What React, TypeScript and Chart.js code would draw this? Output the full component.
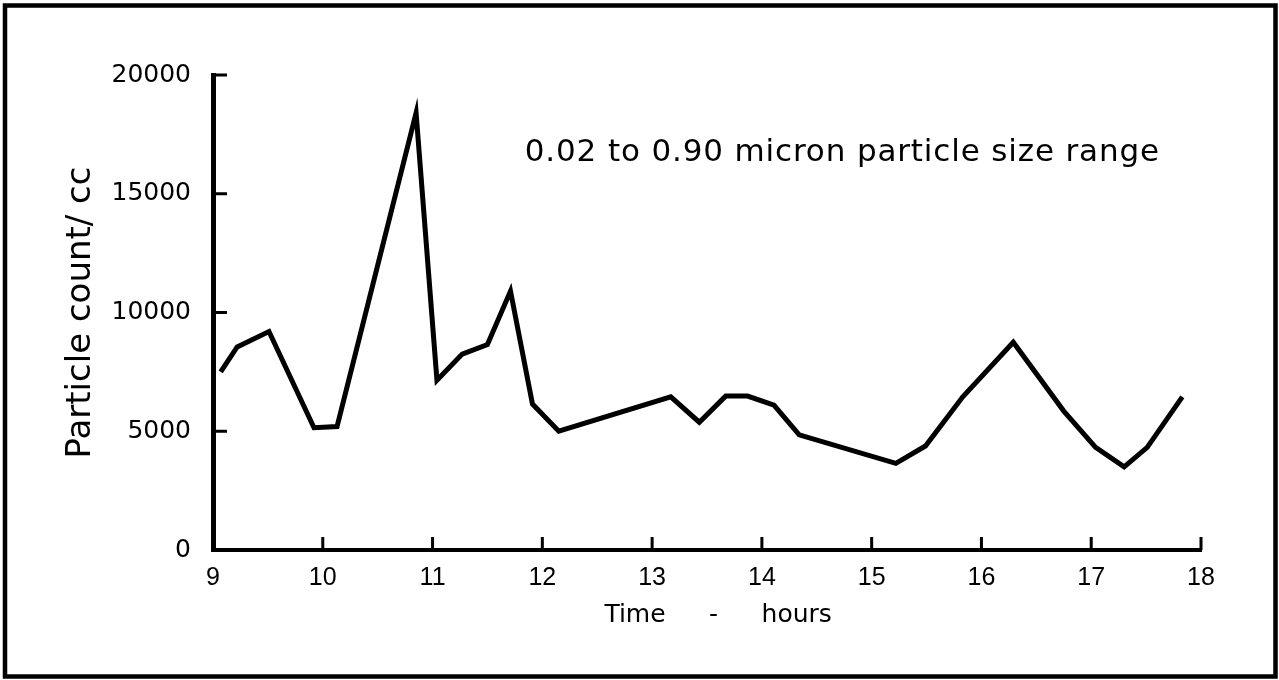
import React, { useEffect, useRef } from "react";
import { Chart, registerables } from "chart.js";

Chart.register(...registerables);

const hours = [9.07, 9.22, 9.51, 9.92, 10.13, 10.85, 11.04, 11.27, 11.5, 11.71, 11.91, 12.15, 13.17, 13.43, 13.67, 13.87, 14.11, 14.34, 15.22, 15.49, 15.83, 16.29, 16.75, 17.04, 17.3, 17.51, 17.83];
const counts = [7500, 8550, 9200, 5150, 5200, 18400, 7150, 8250, 8650, 10900, 6150, 5000, 6450, 5380, 6480, 6480, 6100, 4850, 3650, 4380, 6450, 8750, 5850, 4320, 3500, 4320, 6450];
const xTicks = [9, 10, 11, 12, 13, 14, 15, 16, 17, 18];
const yTicks = [0, 5000, 10000, 15000, 20000];
const annotationText = "0.02 to 0.90 micron particle size range";
const annotationAt = { x: 11.84, y: 16380 };
const xTitleParts = ["Time", "-", "hours"];
const xTitleAt = { x: 13.56, y: -2750 };
const yTitle = "Particle count/ cc";

const FONT = "'DejaVu Sans', 'Liberation Sans', sans-serif";
const NARROW = "'Liberation Sans', Arial, sans-serif";

const decorPlugin = {
  id: "decor",
  afterDraw(chart: any) {
    const { ctx, chartArea } = chart;
    const xs = chart.scales.x;
    const ys = chart.scales.y;
    ctx.save();
    // outer frame
    ctx.strokeStyle = "#000";
    ctx.lineWidth = 4.5;
    ctx.strokeRect(5, 5.5, 1270.5, 671);
    // inward tick marks
    ctx.lineWidth = 3;
    ctx.beginPath();
    yTicks.forEach((v) => {
      if (v === 0) return;
      const py = ys.getPixelForValue(v);
      ctx.moveTo(chartArea.left, py);
      ctx.lineTo(chartArea.left + 14, py);
    });
    xTicks.forEach((v) => {
      if (v === xTicks[0]) return;
      const px = xs.getPixelForValue(v);
      ctx.moveTo(px, chartArea.bottom);
      ctx.lineTo(px, chartArea.bottom - 13);
    });
    ctx.stroke();
    // annotation
    ctx.fillStyle = "#000";
    ctx.font = `31px ${FONT}`;
    (ctx as any).letterSpacing = "0.85px";
    ctx.textAlign = "left";
    ctx.textBaseline = "alphabetic";
    ctx.fillText(annotationText, xs.getPixelForValue(annotationAt.x), ys.getPixelForValue(annotationAt.y));
    // x title
    (ctx as any).letterSpacing = "0px";
    ctx.font = `25px ${FONT}`;
    ctx.textBaseline = "middle";
    const cx = xs.getPixelForValue(xTitleAt.x);
    const cy = ys.getPixelForValue(xTitleAt.y);
    const gap = 48;
    ctx.textAlign = "right";
    ctx.fillText(xTitleParts[0], cx - gap, cy);
    ctx.textAlign = "center";
    ctx.fillText(xTitleParts[1], cx, cy);
    ctx.textAlign = "left";
    ctx.fillText(xTitleParts[2], cx + gap, cy);
    ctx.restore();
  },
};

export default function App() {
  const ref = useRef<HTMLCanvasElement | null>(null);
  useEffect(() => {
    document.body.style.margin = "0";
    const canvas = ref.current!;
    const chart = new Chart(canvas, {
      type: "line",
      data: {
        datasets: [
          {
            data: hours.map((h, i) => ({ x: h, y: counts[i] })),
            borderColor: "#000",
            borderWidth: 5,
            pointRadius: 0,
            tension: 0,
            fill: false,
            borderJoinStyle: "miter",
          },
        ],
      },
      options: {
        animation: false,
        responsive: false,
        devicePixelRatio: 1,
        layout: { padding: { left: 0, top: 75, right: 78, bottom: 0 } },
        plugins: { legend: { display: false }, tooltip: { enabled: false } },
        scales: {
          x: {
            type: "linear",
            min: 9,
            max: 18,
            afterBuildTicks: (s: any) => {
              s.ticks = xTicks.map((v) => ({ value: v }));
            },
            afterFit: (s: any) => {
              s.height = 130;
            },
            grid: { display: false, drawTicks: false },
            border: { display: true, color: "#000", width: 4 },
            ticks: {
              color: "#000",
              font: { family: NARROW, size: 25 },
              padding: 13,
              maxRotation: 0,
              autoSkip: false,
            },
          },
          y: {
            type: "linear",
            min: 0,
            max: 20000,
            afterBuildTicks: (s: any) => {
              s.ticks = yTicks.map((v) => ({ value: v }));
            },
            afterFit: (s: any) => {
              s.width = 213;
            },
            grid: { display: false, drawTicks: false },
            border: { display: true, color: "#000", width: 5 },
            ticks: {
              color: "#000",
              font: { family: FONT, size: 25 },
              padding: 22,
              callback: (v: any) => String(v),
            },
            title: {
              display: true,
              text: yTitle,
              color: "#000",
              font: { family: FONT, size: 34 },
              padding: { top: 61, bottom: 0 },
            },
          },
        },
      },
      plugins: [decorPlugin],
    } as any);
    return () => chart.destroy();
  }, []);
  return (
    <div style={{ width: 1279, height: 680, background: "#fff" }}>
      <canvas ref={ref} width={1279} height={680} style={{ display: "block" }} />
    </div>
  );
}
